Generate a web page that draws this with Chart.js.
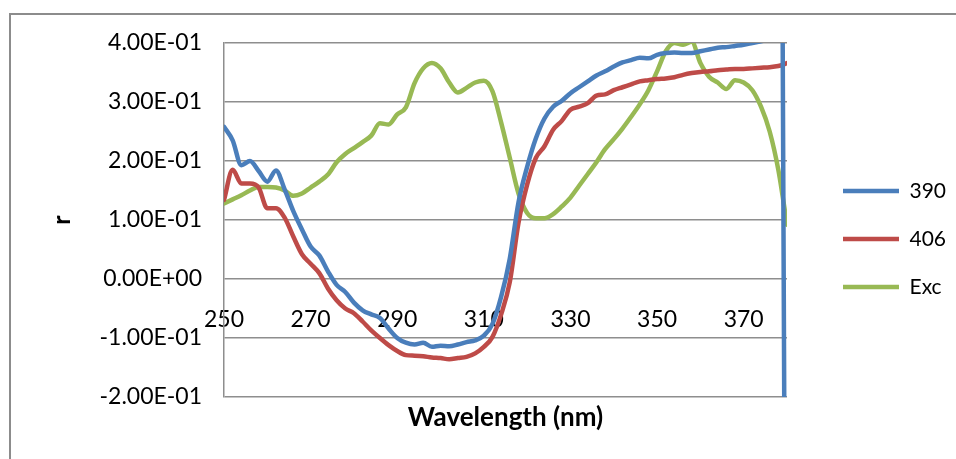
<!DOCTYPE html>
<html>
<head>
<meta charset="utf-8">
<title>r vs wavelength</title>
<script src="https://cdn.jsdelivr.net/npm/chart.js@4/dist/chart.umd.min.js"></script>
<style>
  html, body { margin: 0; padding: 0; background: #fff; overflow: hidden; }
  #wrap { position: relative; width: 956px; height: 459px; }
  #frame {
    position: absolute; left: 9px; top: 13px; width: 1000px; height: 500px;
    border-left: 2px solid #8c8c8c; border-top: 2px solid #8c8c8c;
  }
  #chart { position: absolute; left: 0; top: 0; }
</style>
</head>
<body>
<div id="wrap">
  <div id="frame"></div>
  <canvas id="chart" width="956" height="459"></canvas>
</div>
<script>
const wavelengths = [
  250, 252, 254, 256, 258, 260, 262, 264, 266, 268,
  270, 272, 274, 276, 278, 280, 282, 284, 286, 288,
  290, 292, 294, 296, 298, 300, 302, 304, 306, 308,
  310, 312, 314, 316, 318, 320, 322, 324, 326, 328,
  330, 332, 334, 336, 338, 340, 342, 344, 346, 348,
  350, 352, 354, 356, 358, 360, 362, 364, 366, 368,
  370, 372, 374, 376, 378, 379, 380
];

const r390 = [
  0.258, 0.235, 0.193, 0.200, 0.183, 0.165, 0.184, 0.152, 0.115, 0.084,
  0.055, 0.040, 0.013, -0.010, -0.022, -0.040, -0.053, -0.060, -0.066, -0.084,
  -0.100, -0.108, -0.111, -0.108, -0.115, -0.113, -0.114, -0.111, -0.107, -0.104,
  -0.096, -0.076, -0.030, 0.035, 0.130, 0.190, 0.238, 0.272, 0.292, 0.302,
  0.315, 0.325, 0.335, 0.345, 0.352, 0.360, 0.367, 0.371, 0.375, 0.374,
  0.380, 0.383, 0.384, 0.383, 0.383, 0.386, 0.389, 0.392, 0.393, 0.395,
  0.397, 0.400, 0.403, 0.406, 0.409, 0.410, -1.5
];

const r406 = [
  0.134, 0.185, 0.162, 0.162, 0.155, 0.120, 0.120, 0.104, 0.072, 0.042,
  0.026, 0.010, -0.016, -0.036, -0.050, -0.058, -0.072, -0.087, -0.100, -0.112,
  -0.122, -0.129, -0.130, -0.131, -0.133, -0.134, -0.136, -0.134, -0.132, -0.126,
  -0.115, -0.098, -0.060, -0.005, 0.095, 0.160, 0.205, 0.225, 0.253, 0.268,
  0.287, 0.292, 0.298, 0.311, 0.313, 0.320, 0.325, 0.330, 0.335, 0.337,
  0.339, 0.340, 0.342, 0.346, 0.349, 0.351, 0.352, 0.354, 0.355, 0.356,
  0.356, 0.357, 0.358, 0.359, 0.361, 0.363, 0.366
];

const exc = [
  0.128, 0.135, 0.142, 0.150, 0.156, 0.156, 0.155, 0.150, 0.141, 0.145,
  0.155, 0.165, 0.177, 0.198, 0.212, 0.222, 0.232, 0.243, 0.264, 0.262,
  0.279, 0.291, 0.332, 0.357, 0.366, 0.357, 0.333, 0.316, 0.324, 0.333,
  0.336, 0.318, 0.265, 0.205, 0.145, 0.112, 0.103, 0.103, 0.110, 0.123,
  0.138, 0.158, 0.178, 0.198, 0.220, 0.237, 0.255, 0.275, 0.296, 0.320,
  0.352, 0.386, 0.400, 0.397, 0.402, 0.366, 0.343, 0.333, 0.322, 0.337,
  0.333, 0.320, 0.292, 0.250, 0.185, 0.140, 0.092
];

const seriesNames = ["390", "406", "Exc"];
const xTicks = [250, 270, 290, 310, 330, 350, 370];
const yTicks = [-0.2, -0.1, 0, 0.1, 0.2, 0.3, 0.4];

const FONT = "Lato, 'Open Sans', sans-serif";
const GRID = "#8e8e8e";

// Excel style scientific labels: 4.00E-01, 0.00E+00
function sci(v) {
  if (Math.abs(v) < 1e-9) return "0.00E+00";
  const parts = v.toExponential(2).split("e");
  const n = parseInt(parts[1], 10);
  return parts[0] + "E" + (n < 0 ? "-" : "+") + String(Math.abs(n)).padStart(2, "0");
}

function pairs(ys) {
  return ys.map((y, i) => ({ x: wavelengths[i], y: y }));
}

const colors = ["#4a7ebb", "#be4b48", "#98b954"];
const values = [r390, r406, exc];

const ctx = document.getElementById("chart").getContext("2d");
new Chart(ctx, {
  type: "line",
  data: {
    datasets: seriesNames.map((name, i) => ({
      label: name,
      data: pairs(values[i]),
      borderColor: colors[i],
      backgroundColor: colors[i],
      borderWidth: 4.5,
      pointRadius: 0,
      tension: 0.4,
      cubicInterpolationMode: "monotone",
      borderCapStyle: "round",
      borderJoinStyle: "round",
      xAxisID: "x",
      yAxisID: "y",
    })),
  },
  options: {
    responsive: false,
    animation: false,
    layout: { padding: { left: 30, top: 43, right: 0, bottom: 0 } },
    plugins: {
      tooltip: { enabled: false },
      legend: {
        position: "right",
        align: "start",
        maxWidth: 140,
        // blank title only pushes the entries down
        title: { display: true, text: "", font: { size: 12 }, padding: { top: 0, bottom: 96.1 } },
        labels: {
          usePointStyle: true,
          pointStyle: "line",
          pointStyleWidth: 56,
          padding: 27,
          color: "#000",
          font: { family: FONT, size: 21 },
        },
      },
    },
    scales: {
      x: {
        type: "linear",
        position: { y: 0 },
        min: 250,
        max: 380,
        afterBuildTicks: (axis) => { axis.ticks = xTicks.map((v) => ({ value: v })); },
        grid: { display: false, drawTicks: false },
        border: { display: false },
        ticks: {
          padding: 27,
          color: "#000",
          maxRotation: 0,
          autoSkip: false,
          font: { family: FONT, size: 23 },
        },
      },
      xTitle: {
        type: "linear",
        position: "bottom",
        grid: { display: false, drawTicks: false },
        border: { display: false },
        ticks: { display: false },
        title: {
          display: true,
          text: "Wavelength (nm)",
          color: "#000",
          font: { family: FONT, size: 26, weight: "bold" },
          padding: { top: 5.4, bottom: 25.4 },
        },
      },
      y: {
        type: "linear",
        position: "left",
        min: -0.2,
        max: 0.4,
        afterBuildTicks: (axis) => { axis.ticks = yTicks.map((v) => ({ value: v })); },
        afterFit: (axis) => { axis.width = 194; },
        grid: { color: GRID, lineWidth: 1.5, drawTicks: false },
        border: { display: true, color: GRID, width: 1.5 },
        ticks: {
          padding: 22,
          color: "#000",
          font: { family: FONT, size: 23 },
          callback: (v) => sci(v),
        },
        title: {
          display: true,
          text: "r",
          color: "#000",
          font: { family: FONT, size: 25, weight: "bold" },
          padding: { top: 17, bottom: 0 },
        },
      },
      // empty right axis, keeps the gap between plot and legend
      yGap: {
        type: "linear",
        position: "right",
        grid: { display: false, drawTicks: false },
        border: { display: false },
        ticks: { display: false },
        afterFit: (axis) => { axis.width = 29; },
      },
    },
  },
});
</script>
</body>
</html>
